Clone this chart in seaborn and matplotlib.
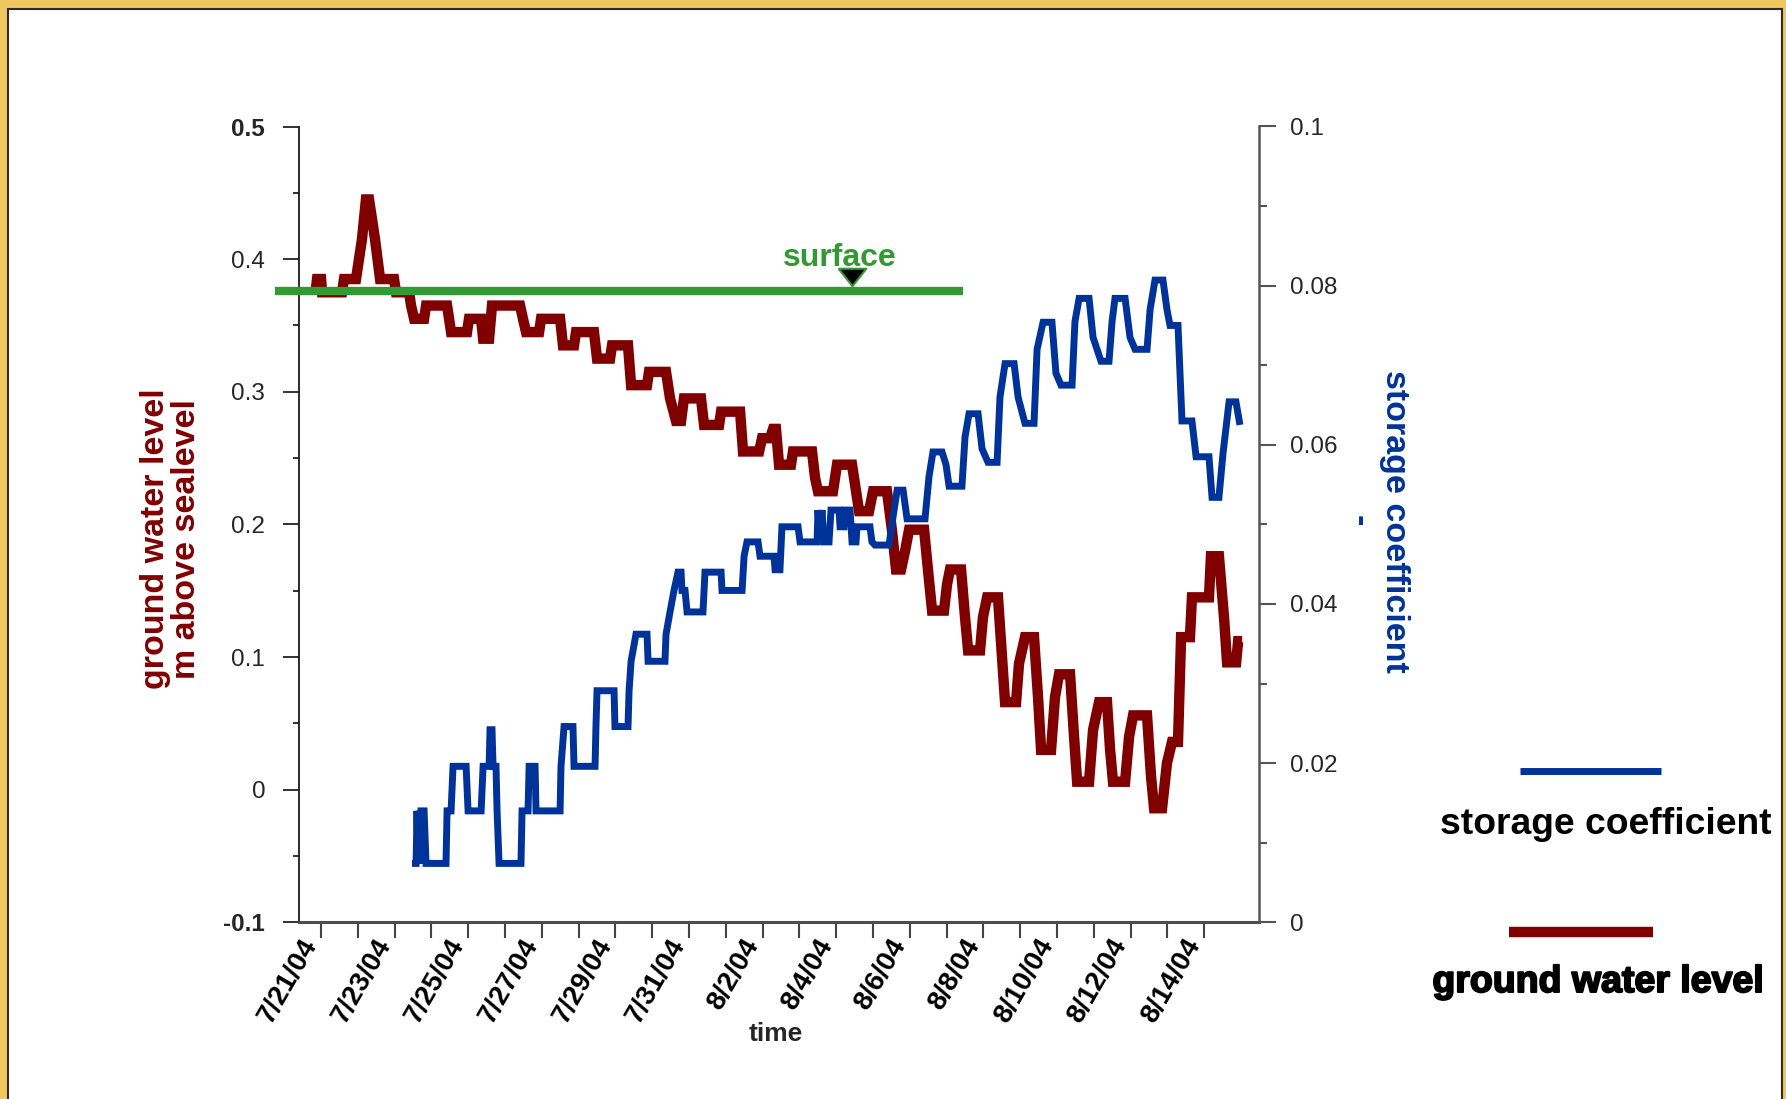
import pandas as pd
import matplotlib
matplotlib.use("Agg")
import matplotlib.pyplot as plt
import matplotlib.patheffects as pe
import seaborn as sns
from matplotlib.lines import Line2D
from matplotlib.patches import Rectangle
from matplotlib.transforms import offset_copy, ScaledTranslation

# ---------------------------------------------------------------- data
# hours after 2004-07-21 00:00
gwl_hours = [
    -3.3, -2.6, 0.0, 0.7, 13.7, 15.0, 22.8, 26.7, 29.3, 31.3, 35.2, 38.5,
    47.6, 48.9, 57.4, 58.7, 60.7, 67.2, 68.5, 82.2, 83.5, 84.8, 95.2, 96.5,
    104.4, 105.7, 109.6, 111.5, 129.8, 131.7, 133.7, 142.2, 143.5, 155.9,
    157.8, 165.0, 166.3, 178.0, 180.0, 188.5, 189.8, 200.2, 202.2, 212.6,
    213.9, 225.0, 227.6, 231.5, 234.8, 236.7, 247.8, 249.8, 259.6, 260.9,
    273.3, 275.2, 285.7, 287.6, 292.8, 294.8, 296.7, 298.7, 306.5, 307.8,
    320.2, 322.2, 324.1, 333.9, 336.5, 346.3, 348.9, 350.9, 357.4, 360.0,
    369.1, 372.4, 375.0, 378.3, 380.9, 383.5, 393.3, 395.9, 398.5, 406.3,
    408.3, 410.2, 417.4, 420.0, 422.0, 429.8, 431.7, 434.4, 441.5, 444.1,
    446.1, 453.3, 455.2, 459.1, 465.0, 467.6, 469.6, 476.1, 478.7, 481.3,
    488.5, 491.1, 493.1, 500.9, 503.5, 507.4, 512.6, 514.6, 516.5, 524.4,
    527.0, 529.6, 538.7, 541.3, 543.3, 548.5, 551.7, 555.0, 558.9, 560.9,
    566.7, 568.0, 579.1, 580.4, 585.6, 588.9, 590.9, 596.8, 598.1, 600.7,
]
# ground water level, m above sea level
gwl_level = [
    0.378, 0.385, 0.385, 0.375, 0.375, 0.385, 0.385, 0.415, 0.445, 0.445,
    0.415, 0.385, 0.385, 0.375, 0.375, 0.365, 0.355, 0.355, 0.365, 0.365,
    0.355, 0.345, 0.345, 0.355, 0.355, 0.340, 0.340, 0.365, 0.365, 0.355,
    0.345, 0.345, 0.355, 0.355, 0.335, 0.335, 0.345, 0.345, 0.325, 0.325,
    0.335, 0.335, 0.305, 0.305, 0.315, 0.315, 0.295, 0.278, 0.278, 0.295,
    0.295, 0.275, 0.275, 0.285, 0.285, 0.255, 0.255, 0.265, 0.265, 0.272,
    0.272, 0.245, 0.245, 0.255, 0.255, 0.235, 0.225, 0.225, 0.245, 0.245,
    0.225, 0.210, 0.210, 0.225, 0.225, 0.195, 0.166, 0.166, 0.180, 0.196,
    0.196, 0.165, 0.135, 0.135, 0.155, 0.166, 0.166, 0.130, 0.105, 0.105,
    0.130, 0.145, 0.145, 0.100, 0.066, 0.066, 0.095, 0.115, 0.115, 0.070,
    0.030, 0.030, 0.070, 0.087, 0.087, 0.040, 0.006, 0.006, 0.045, 0.066,
    0.066, 0.030, 0.006, 0.006, 0.040, 0.056, 0.056, 0.010, -0.014, -0.014,
    0.020, 0.036, 0.036, 0.115, 0.115, 0.145, 0.145, 0.176, 0.176, 0.130,
    0.096, 0.096, 0.112, 0.112,
]

sc_hours = [
    59.3, 62.0, 62.6, 63.3, 63.9, 64.6, 65.2, 67.2, 68.5, 81.5, 82.2, 84.8,
    86.1, 94.6, 95.9, 104.4, 105.7, 109.6, 110.2, 111.5, 112.2, 114.1, 114.8,
    116.1, 130.4, 131.1, 135.0, 135.7, 139.6, 140.2, 155.9, 156.5, 158.5,
    164.3, 165.0, 178.7, 179.3, 180.0, 191.1, 191.7, 200.2, 200.9, 202.2,
    205.4, 212.6, 213.3, 224.3, 225.0, 227.6, 230.2, 232.8, 234.8, 235.4,
    237.4, 238.7, 249.1, 250.4, 260.9, 261.5, 274.6, 275.9, 277.8, 285.0,
    286.3, 295.4, 296.1, 299.3, 300.6, 311.1, 312.4, 323.5, 324.1, 325.4,
    326.7, 328.0, 331.3, 332.6, 337.8, 338.5, 341.1, 341.7, 345.0, 346.3,
    348.9, 349.6, 358.0, 359.3, 361.3, 370.4, 373.1, 375.7, 379.6, 382.2,
    393.9, 396.5, 399.1, 405.0, 407.6, 409.6, 418.0, 420.0, 422.6, 428.5,
    431.1, 435.0, 440.9, 442.8, 446.1, 452.0, 454.6, 459.1, 465.0, 467.0,
    470.9, 476.7, 479.3, 482.6, 489.8, 491.7, 494.4, 500.9, 503.5, 508.7,
    513.9, 515.9, 517.8, 524.4, 527.6, 530.9, 538.7, 540.7, 543.9, 549.1,
    551.7, 553.7, 558.9, 561.5, 568.0, 570.7, 579.1, 581.1, 585.6, 588.3,
    592.2, 596.7, 599.3,
]
# storage coefficient (-)
sc_value = [
    0.0074, 0.0074, 0.0140, 0.0074, 0.0140, 0.0074, 0.0140, 0.0140, 0.0074,
    0.0074, 0.0140, 0.0140, 0.0196, 0.0196, 0.0140, 0.0140, 0.0196, 0.0196,
    0.0242, 0.0242, 0.0196, 0.0196, 0.0140, 0.0074, 0.0074, 0.0140, 0.0140,
    0.0196, 0.0196, 0.0140, 0.0140, 0.0196, 0.0246, 0.0246, 0.0196, 0.0196,
    0.0246, 0.0291, 0.0291, 0.0246, 0.0246, 0.0291, 0.0328, 0.0362, 0.0362,
    0.0328, 0.0328, 0.0362, 0.0390, 0.0417, 0.0440, 0.0440, 0.0417, 0.0417,
    0.0390, 0.0390, 0.0440, 0.0440, 0.0417, 0.0417, 0.0460, 0.0478, 0.0478,
    0.0460, 0.0460, 0.0443, 0.0443, 0.0497, 0.0497, 0.0478, 0.0478, 0.0518,
    0.0478, 0.0518, 0.0478, 0.0478, 0.0518, 0.0518, 0.0497, 0.0497, 0.0518,
    0.0518, 0.0478, 0.0478, 0.0497, 0.0497, 0.0478, 0.0474, 0.0474, 0.0510,
    0.0543, 0.0543, 0.0507, 0.0507, 0.0560, 0.0591, 0.0591, 0.0575, 0.0548,
    0.0548, 0.0610, 0.0639, 0.0639, 0.0595, 0.0578, 0.0578, 0.0660, 0.0702,
    0.0702, 0.0660, 0.0627, 0.0627, 0.0720, 0.0754, 0.0754, 0.0690, 0.0675,
    0.0675, 0.0755, 0.0784, 0.0784, 0.0735, 0.0705, 0.0705, 0.0755, 0.0784,
    0.0784, 0.0735, 0.0720, 0.0720, 0.0770, 0.0807, 0.0807, 0.0770, 0.0750,
    0.0750, 0.0630, 0.0630, 0.0585, 0.0585, 0.0534, 0.0534, 0.0590, 0.0654,
    0.0654, 0.0625,
]

# ground surface elevation and the span it is drawn over (hours)
surface_level = 0.376
surface_span_hours = [-30.0, 418.7]
surface_mark_hour = 346.0
surface_text_hour = 338.5

labelled_days = ["7/21/04", "7/23/04", "7/25/04", "7/27/04", "7/29/04",
                 "7/31/04", "8/2/04", "8/4/04", "8/6/04", "8/8/04",
                 "8/10/04", "8/12/04", "8/14/04"]
gwl_ticks = [-0.1, 0.0, 0.1, 0.2, 0.3, 0.4, 0.5]
gwl_minor = [-0.05, 0.05, 0.15, 0.25, 0.35, 0.45]
sc_ticks = [0.0, 0.02, 0.04, 0.06, 0.08, 0.1]
sc_minor = [0.01, 0.03, 0.05, 0.07, 0.09]

# ---------------------------------------------------------------- style
RED = "#800000"
BLUE = "#003399"
GREEN = "#339933"
GOLD = "#F0C660"
W, H = 1786, 1099

sns.set_style("ticks")
plt.rcParams["font.family"] = ["Liberation Sans", "DejaVu Sans"]

start = pd.Timestamp("2004-07-21")
gwl = pd.DataFrame({"time": start + pd.to_timedelta(gwl_hours, unit="h"),
                    "level": gwl_level})
sc = pd.DataFrame({"time": start + pd.to_timedelta(sc_hours, unit="h"),
                   "coef": sc_value})

fig = plt.figure(figsize=(W / 100, H / 100), dpi=100)
fig.patch.set_facecolor(GOLD)
fig.add_artist(Rectangle((8 / W, -0.02), (1782 - 8) / W, 1.02 - 8.5 / H,
                         transform=fig.transFigure, facecolor="white",
                         edgecolor="#2b2b2b", linewidth=1.5, zorder=-1))

ax = fig.add_axes([298.5 / W, 1 - 922.3 / H, 960 / W, 795.8 / H])
ax.set_facecolor("none")

sns.lineplot(data=gwl, x="time", y="level", ax=ax, color=RED, linewidth=7.5,
             estimator=None, sort=False, legend=False,
             solid_joinstyle="miter", solid_capstyle="butt")

# ground surface line with its marker and label
surf_t = start + pd.to_timedelta(surface_span_hours, unit="h")
ax.plot(surf_t, [surface_level] * 2, color=GREEN, linewidth=6,
        solid_capstyle="butt", clip_on=False, zorder=3)
mark_t = start + pd.Timedelta(hours=surface_mark_hour)
ax.plot([mark_t], [surface_level], linestyle="none",
        marker=[(-1, 0.63), (1, 0.63), (0, -0.63), (-1, 0.63)],
        markersize=20, markerfacecolor="black", markeredgecolor=GREEN,
        markeredgewidth=1.5, clip_on=False, zorder=4,
        transform=offset_copy(ax.transData, fig=fig, y=10.4, units="points"))
ax.text(start + pd.Timedelta(hours=surface_text_hour), surface_level, "surface",
        transform=offset_copy(ax.transData, fig=fig, y=17.8, units="points"),
        ha="center", va="baseline", color=GREEN, fontsize=23,
        fontweight="bold")

ax2 = ax.twinx()
sns.lineplot(data=sc, x="time", y="coef", ax=ax2, color=BLUE, linewidth=5,
             estimator=None, sort=False, legend=False,
             solid_joinstyle="miter", solid_capstyle="butt")

# ---------------------------------------------------------------- axes
ax.set_xlim(start + pd.Timedelta(hours=-14.7), start + pd.Timedelta(hours=611.4))
label_dates = pd.date_range("2004-07-21", "2004-08-14", freq="2D")
all_days = pd.date_range("2004-07-21", "2004-08-14", freq="D")
minor_days = [d for d in all_days if d not in set(label_dates)]
ax.set_xticks(label_dates)
ax.set_xticks(minor_days, minor=True)

ax.set_ylim(-0.1, 0.5)
ax.set_yticks(gwl_ticks)
ax.set_yticklabels([f"{v:g}" for v in gwl_ticks])
ax.set_yticks(gwl_minor, minor=True)

ax2.set_ylim(0, 0.1)
ax2.set_yticks(sc_ticks)
ax2.set_yticklabels([f"{v:g}" for v in sc_ticks])
ax2.set_yticks(sc_minor, minor=True)

ax.tick_params(axis="x", which="both", direction="out", length=11.5,
               width=1.5, color="#444444", pad=2, labelcolor="black")
ax.tick_params(axis="y", which="major", direction="out", length=11.5,
               width=1.3, color="#222222", pad=12.5, labelsize=17.5)
ax.tick_params(axis="y", which="minor", direction="out", length=4.5,
               width=1.3, color="#222222")
ax2.tick_params(axis="y", which="major", direction="out", length=12,
                width=1.5, color="#555555", pad=11, labelsize=17.5)
ax2.tick_params(axis="y", which="minor", direction="out", length=5.4,
                width=1.5, color="#555555")

ax.set_xticklabels(labelled_days, rotation=60, ha="right", va="center",
                   rotation_mode="anchor", fontweight="bold", fontsize=20)
# nudge the slanted date labels so they end just under their tick
shift = ScaledTranslation(-0.097, 0, fig.dpi_scale_trans)
for lab in ax.get_xticklabels():
    lab.set_transform(lab.get_transform() + shift)
for i in (0, -1):
    ax.get_yticklabels()[i].set_fontweight("bold")

for side in ("top", "right"):
    ax.spines[side].set_visible(False)
ax.spines["left"].set_color("#1a1a1a")
ax.spines["left"].set_linewidth(1.3)
ax.spines["bottom"].set_color("#4d4d4d")
ax.spines["bottom"].set_linewidth(2.2)
for side in ("top", "left", "bottom"):
    ax2.spines[side].set_visible(False)
ax2.spines["right"].set_color("#555555")
ax2.spines["right"].set_linewidth(1.8)

ax.set_xlabel("time", fontsize=19, fontweight="bold")
ax.xaxis.set_label_coords(0.4974, -0.1404)
ax.xaxis.label.set_va("center")

ax.set_ylabel("ground water level\nm above sealevel", color=RED,
              fontsize=24.5, fontweight="bold", linespacing=1.0)
ax.yaxis.set_label_coords(-0.1328, 0.4817)
ax.yaxis.label.set_va("center")

ax2.set_ylabel("storage coefficient\n-", color=BLUE, fontsize=24.5,
               fontweight="bold", rotation=270, linespacing=1.2)
ax2.yaxis.set_label_coords(1.1229, 0.5043)
ax2.yaxis.label.set_va("center")

# ---------------------------------------------------------------- legend
fig.add_artist(Line2D([1520 / W, 1661 / W], [1 - 771 / H] * 2,
                      transform=fig.transFigure, color=BLUE, linewidth=5,
                      solid_capstyle="butt"))
fig.text(1605.5 / W, 1 - 834 / H, "storage coefficient", ha="center",
         va="baseline", fontsize=26.8, fontweight="bold", color="black")
fig.add_artist(Line2D([1509 / W, 1653 / W], [1 - 932 / H] * 2,
                      transform=fig.transFigure, color=RED, linewidth=7.5,
                      solid_capstyle="butt"))
fig.text(1598 / W, 1 - 992 / H, "ground water level", ha="center",
         va="baseline", fontsize=27, fontweight="bold", color="black",
         path_effects=[pe.withStroke(linewidth=1.4, foreground="black")])

fig.savefig("out.png", dpi=100, facecolor=fig.get_facecolor())
